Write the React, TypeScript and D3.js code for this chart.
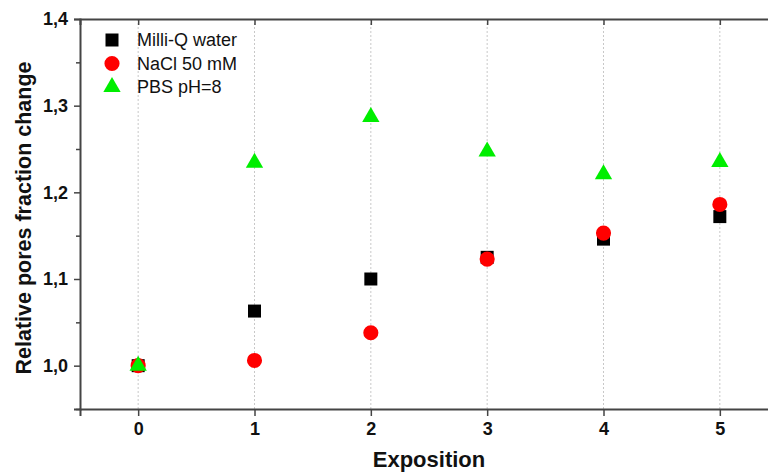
import React, { useRef, useEffect } from 'react';
import * as d3 from 'd3';

const expositions = [0, 1, 2, 3, 4, 5];
const milliQ = [1.0, 1.063, 1.1, 1.125, 1.146, 1.172];
const nacl = [1.0, 1.006, 1.038, 1.123, 1.153, 1.186];
const pbs = [1.0, 1.234, 1.287, 1.247, 1.221, 1.235];

const yTicks = [1.0, 1.1, 1.2, 1.3, 1.4];
const yMinorTicks = [0.95, 1.05, 1.15, 1.25, 1.35];

const seriesNames = ['Milli-Q water', 'NaCl 50 mM', 'PBS pH=8'];
const seriesColors = ['#000000', '#ff0000', '#00ee00'];

const width = 768;
const height = 473;
const margin = { top: 19, right: -10, bottom: 64, left: 80 };

const App: React.FC = () => {
  const svgRef = useRef<SVGSVGElement | null>(null);

  useEffect(() => {
    if (!svgRef.current) return;
    const svg = d3.select(svgRef.current);
    svg.selectAll('*').remove();

    const x = d3.scaleLinear().domain([-0.5, 5.5]).range([margin.left, width - margin.right]);
    const y = d3.scaleLinear().domain([0.95, 1.4]).range([height - margin.bottom, margin.top]);

    const axisColor = '#444';
    const font = 'Arial, "Liberation Sans", sans-serif';

    // grid lines
    svg.append('g')
      .selectAll('line')
      .data(expositions)
      .enter().append('line')
      .attr('x1', (d) => x(d))
      .attr('x2', (d) => x(d))
      .attr('y1', y(1.4))
      .attr('y2', y(0.95))
      .attr('stroke', '#c8c8c8')
      .attr('stroke-width', 1)
      .attr('stroke-dasharray', '2,2');

    // bottom axis
    const xAxis = svg.append('g')
      .attr('transform', `translate(0,${y(0.95)})`)
      .call(d3.axisBottom(x).tickValues(expositions).tickSize(7).tickPadding(6).tickFormat(d3.format('d')));
    xAxis.select('.domain').attr('stroke', axisColor).attr('stroke-width', 2);
    xAxis.selectAll('.tick line').attr('stroke', axisColor).attr('stroke-width', 1.5);
    xAxis.selectAll('.tick text')
      .attr('fill', '#111')
      .style('font-family', font)
      .style('font-size', '18px')
      .style('font-weight', 'bold');

    // top axis (mirror, ticks inward)
    const xTop = svg.append('g')
      .attr('transform', `translate(0,${y(1.4)})`)
      .call(d3.axisBottom(x).tickValues(expositions).tickSize(6).tickFormat(() => ''));
    xTop.select('.domain').attr('stroke', axisColor).attr('stroke-width', 2);
    xTop.selectAll('.tick line').attr('stroke', axisColor).attr('stroke-width', 1.5);

    // left axis
    const yAxis = svg.append('g')
      .attr('transform', `translate(${x(-0.5)},0)`)
      .call(d3.axisLeft(y).tickValues(yTicks).tickSize(6).tickPadding(6)
        .tickFormat((d) => d3.format('.1f')(d as number).replace('.', ',')));
    yAxis.select('.domain').attr('stroke', axisColor).attr('stroke-width', 2);
    yAxis.selectAll('.tick line').attr('stroke', axisColor).attr('stroke-width', 1.5);
    yAxis.selectAll('.tick text')
      .attr('fill', '#111')
      .style('font-family', font)
      .style('font-size', '18px')
      .style('font-weight', 'bold');

    svg.append('g')
      .attr('transform', `translate(${x(-0.5)},0)`)
      .call(d3.axisLeft(y).tickValues(yMinorTicks).tickSize(4).tickFormat(() => ''))
      .call((g) => g.select('.domain').remove())
      .selectAll('.tick line').attr('stroke', axisColor).attr('stroke-width', 1.5);

    // axis titles
    svg.append('text')
      .attr('x', (x(-0.5) + x(5.5)) / 2)
      .attr('y', 467)
      .attr('text-anchor', 'middle')
      .text('Exposition')
      .style('fill', '#111')
      .style('font-family', font)
      .style('font-size', '22px')
      .style('font-weight', 'bold');

    svg.append('text')
      .attr('transform', `translate(23,${(y(1.4) + y(0.95)) / 2 + 4}) rotate(-90)`)
      .attr('text-anchor', 'middle')
      .attr('dy', '0.35em')
      .text('Relative pores fraction change')
      .style('fill', '#111')
      .style('font-family', font)
      .style('font-size', '21.5px')
      .style('font-weight', 'bold');

    // markers
    const shapes = [
      d3.symbol().type(d3.symbolSquare).size(169),
      d3.symbol().type(d3.symbolCircle).size(180),
      d3.symbol().type(d3.symbolTriangle).size(130),
    ];
    const allSeries = [milliQ, nacl, pbs];

    allSeries.forEach((vals, i) => {
      svg.append('g')
        .selectAll('path')
        .data(vals)
        .enter().append('path')
        .attr('d', shapes[i]() as string)
        .attr('transform', (d, j) => `translate(${x(expositions[j])},${y(d)})`)
        .attr('fill', seriesColors[i]);
    });

    // legend
    const legend = svg.append('g').attr('transform', 'translate(112,40)');
    seriesNames.forEach((name, i) => {
      legend.append('path')
        .attr('d', shapes[i]() as string)
        .attr('transform', `translate(0,${i * 23.5})`)
        .attr('fill', seriesColors[i]);
      legend.append('text')
        .attr('x', 25)
        .attr('y', i * 23.5)
        .attr('dy', '0.35em')
        .text(name)
        .style('fill', '#111')
        .style('font-family', font)
        .style('font-size', '18px');
    });
  }, []);

  return (
    <svg
      ref={svgRef}
      width={width}
      height={height}
      style={{ position: 'absolute', left: 0, top: 0, background: '#fff', display: 'block' }}
    />
  );
};

export default App;
